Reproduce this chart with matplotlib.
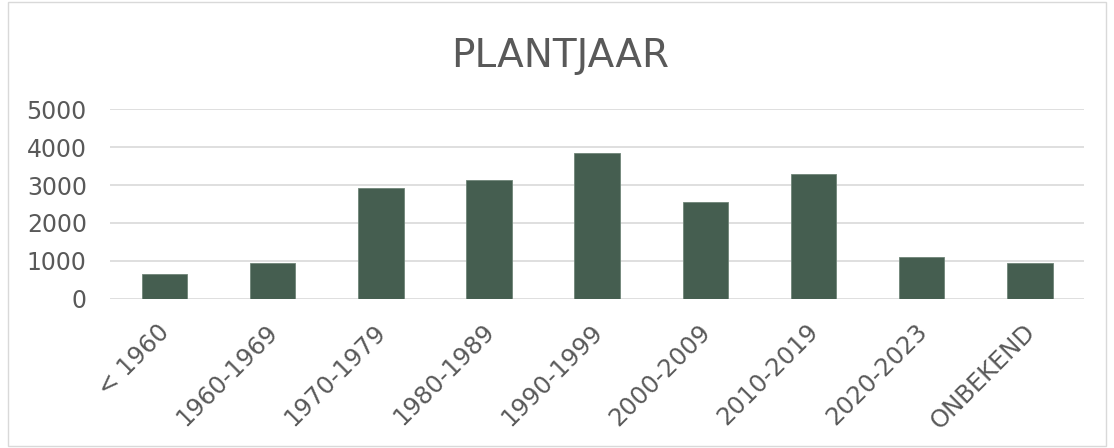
import matplotlib
matplotlib.use("Agg")
import matplotlib.pyplot as plt
from matplotlib.patches import Rectangle
from matplotlib.transforms import ScaledTranslation

# aantal bomen per plantjaar
categories = ["< 1960", "1960-1969", "1970-1979", "1980-1989", "1990-1999",
              "2000-2009", "2010-2019", "2020-2023", "ONBEKEND"]
counts = [660, 935, 2920, 3130, 3835, 2545, 3295, 1090, 935]
yticks = [0, 1000, 2000, 3000, 4000, 5000]

text_color = "#595959"
bar_color = "#455E50"

fig = plt.figure(figsize=(11.14, 4.48), dpi=100)
ax = fig.add_axes([0.0991, 0.3333, 0.8740, 0.4228])

x = range(len(categories))
ax.bar(x, counts, width=0.42, color=bar_color, edgecolor="#6f8578", linewidth=0.6, zorder=3)

ax.set_xlim(-0.5, len(categories) - 0.5)
ax.set_ylim(0, 5000)
ax.set_yticks(yticks)
ax.set_yticklabels([str(v) for v in yticks])
ax.set_xticks(list(x))
ax.set_xticklabels(categories, rotation=45, ha="right", rotation_mode="anchor")

ax.grid(axis="y", color="#d9d9d9", linewidth=1.2, zorder=0)
ax.set_axisbelow(True)
for s in ax.spines.values():
    s.set_visible(False)
ax.tick_params(axis="both", length=0, colors=text_color)
ax.tick_params(axis="y", pad=17, labelsize=17)
ax.tick_params(axis="x", pad=15, labelsize=17.5)

# labels iets naar links schuiven
shift = ScaledTranslation(-0.07, 0, fig.dpi_scale_trans)
for lab in ax.get_xticklabels():
    lab.set_transform(lab.get_transform() + shift)

fig.text(0.503, 0.8504, "PLANTJAAR", ha="center", va="baseline", fontsize=28, color=text_color)

# kader rond de grafiek
fig.patches.append(Rectangle((0.007, 0.005), 0.986, 0.99, transform=fig.transFigure,
                             fill=False, edgecolor="#d9d9d9", linewidth=1))

fig.savefig("out.png", dpi=100)
